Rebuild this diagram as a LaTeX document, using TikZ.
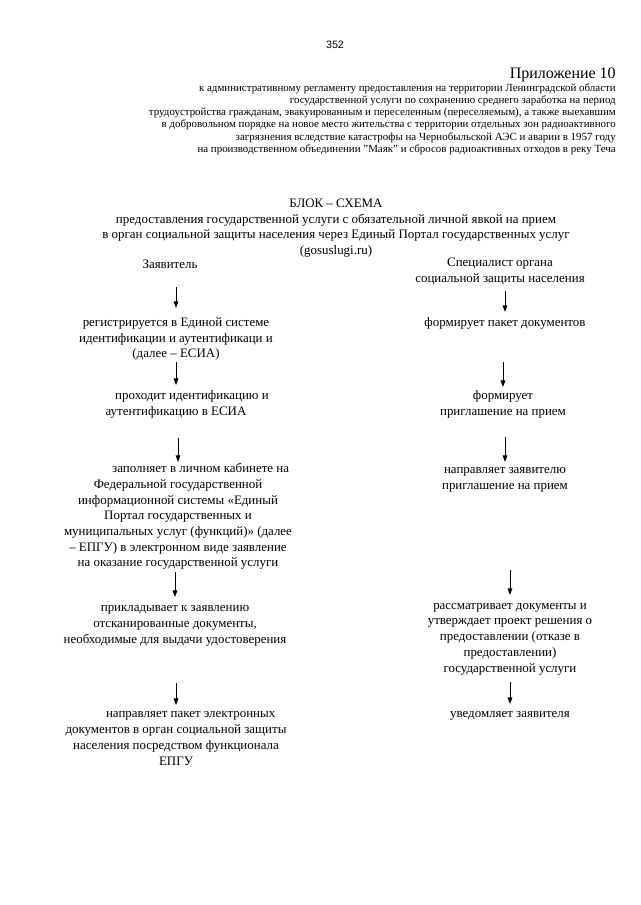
\documentclass[tikz,border=0pt]{standalone}
\usepackage{fontspec}
\setmainfont{Liberation Serif}
\newfontfamily\numfont{Liberation Sans}
\usetikzlibrary{arrows.meta}
\newcommand\bodysize{\fontsize{9.7}{11.8}\selectfont}
\newcommand\headsize{\fontsize{8.2}{9.2}\selectfont}
\begin{document}
\begin{tikzpicture}[
  x=0.75pt, y=-0.75pt,
  every node/.style={align=center, font=\bodysize, inner sep=0pt},
  arr/.style 2 args={-{Triangle[length=5pt,width=3.5pt]}, line width=0.7pt, shorten <=#1*0.75pt, shorten >=#2*0.75pt}
]
\useasboundingbox (0,0) rectangle (640,905);

\node[font=\numfont\fontsize{8}{9}\selectfont] (num) at (335,45) {352};
\node[font=\fontsize{12}{14}\selectfont, anchor=east] (app) at (616,75) {Приложение 10};
\node[font=\headsize, align=right, anchor=east] (hdr) at (616,119) {к административному регламенту предоставления на территории Ленинградской области\\
государственной услуги по сохранению среднего заработка на период\\
трудоустройства гражданам, эвакуированным и переселенным (переселяемым), а также выехавшим\\
в добровольном порядке на новое место жительства с территории отдельных зон радиоактивного\\
загрязнения вследствие катастрофы на Чернобыльской АЭС и аварии в 1957 году\\
на производственном объединении "Маяк" и сбросов радиоактивных отходов в реку Теча};

\node (T) at (336,228) {БЛОК – СХЕМА\\
предоставления государственной услуги с обязательной личной явкой на прием\\
в орган социальной защиты населения через Единый Портал государственных услуг\\
(gosuslugi.ru)};

% заявитель
\node (Z) at (170,264) {Заявитель};
\node (Z1) at (176,339) {регистрируется в Единой системе\\ идентификации и аутентификаци и\\ (далее – ЕСИА)};
\node (Z2) at (176,404.5) {\hspace*{24pt}проходит идентификацию и\\ аутентификацию в ЕСИА};
\node (Z3) at (178,516.5) {\hspace*{34pt}заполняет в личном кабинете на\\ Федеральной государственной\\ информационной системы «Единый\\ Портал государственных и\\ муниципальных услуг (функций)» (далее\\ – ЕПГУ) в электронном виде заявление\\ на оказание государственной услуги};
\node (Z4) at (175,626) {прикладывает к заявлению\\ отсканированные документы,\\ необходимые для выдачи удостоверения};
\node (Z5) at (176,738.5) {\hspace*{22pt}направляет пакет электронных\\ документов в орган социальной защиты\\ населения посредством функционала\\ ЕПГУ};

% специалист
\node (S) at (500,271.5) {Специалист органа\\ социальной защиты населения};
\node (S1) at (505,323) {формирует пакет документов};
\node (S2) at (503,404.5) {формирует\\ приглашение на прием};
\node (S3) at (505,479.5) {направляет заявителю\\ приглашение на прием};
\node (S4) at (510,639) {рассматривает документы и\\ утверждает проект решения о\\ предоставлении (отказе в\\ предоставлении)\\ государственной услуги};
\node (S5) at (510,716) {уведомляет заявителя};

\draw[arr={23}{31}] (Z1 |- Z) -- (Z1.center);
\draw[arr={23}{19.5}] (Z2 |- Z1) -- (Z2.center);
\draw[arr={33.5}{54.5}] (Z3 |- Z2) -- (Z3.center);
\draw[arr={55.5}{29}] (Z4 |- Z3) -- (Z4.center);
\draw[arr={57}{33.5}] (Z5 |- Z4) -- (Z5.center);

\draw[arr={19.5}{11}] (S1 |- S) -- (S1.center);
\draw[arr={39}{17.5}] (S2 |- S1) -- (S2.center);
\draw[arr={32.5}{17.5}] (S3 |- S2) -- (S3.center);
\draw[arr={90.5}{44}] (S4 |- S3) -- (S4.center);
\draw[arr={43}{12}] (S5 |- S4) -- (S5.center);
\end{tikzpicture}
\end{document}
